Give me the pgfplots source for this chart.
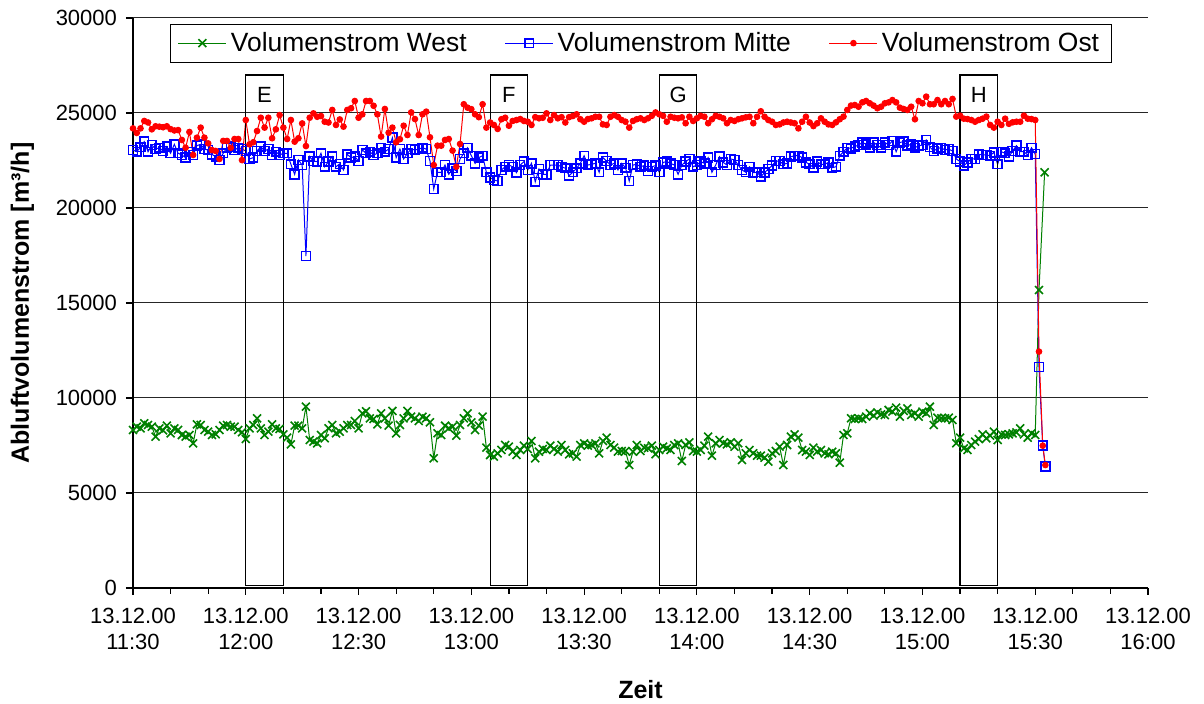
\documentclass[border=0pt]{standalone}
\usepackage{pgfplots}
\pgfplotsset{compat=1.18}
\usepackage{pgfplotstable}
\usepackage{fontspec}
\setmainfont{Liberation Sans}
\definecolor{exgreen}{RGB}{0,128,0}

% t = minutes after 13.12.00 11:30; W = West, M = Mitte, O = Ost
\pgfplotstableread{
t W M O
0 8316 23050 24190
1 8491 22960 23950
2 8400 23200 24190
3 8667 23490 24580
4 8579 22960 24500
5 8491 23310 24140
6 7965 23100 24300
7 8403 23170 24280
8 8300 23000 24250
9 8544 23230 24300
10 8140 22880 24150
11 8403 23350 24080
12 8316 22880 24100
13 8052 22790 23580
14 7965 22650 23170
15 8052 22960 24000
16 7614 22790 22790
17 8614 23280 23700
18 8579 23350 24230
19 8316 23100 23700
20 8228 23050 23400
21 8052 22820 23050
22 8088 22700 23000
23 8316 22530 22580
24 8544 22880 23530
25 8579 23170 23530
26 8491 23230 23170
27 8491 23050 23630
28 8316 23170 23630
29 8193 23100 22520
30 7842 23000 24630
31 8403 22580 23350
32 8579 22650 23460
33 8929 23000 24050
34 8403 23230 24750
35 8052 23000 24230
36 8228 23100 24750
37 8614 22790 23670
38 8403 22960 24140
39 8368 22790 24890
40 8088 22880 24230
41 7912 22880 23630
42 7561 22300 24630
43 8544 21770 23490
44 8544 22530 23670
45 8400 22260 24450
46 9544 17470 23260
47 7789 22700 24750
48 7701 22470 24980
49 7614 22440 24800
50 8052 22880 24840
51 7877 22170 24540
52 8403 22440 24500
53 8579 22700 25160
54 8140 22170 24370
55 8228 22320 24660
56 8403 22000 24280
57 8579 22820 25160
58 8579 22650 25250
59 8789 22700 25630
60 8403 22470 24750
61 9193 23050 24930
62 9300 22880 25630
63 8929 22960 25630
64 8894 22790 25380
65 8614 22880 24930
66 9193 23170 23760
67 8929 22960 25210
68 8544 23100 23960
69 9316 23700 24230
70 8140 22650 23460
71 8579 23100 23620
72 8929 22580 24330
73 9316 22880 23840
74 9017 23100 25030
75 8929 23050 24680
76 8789 23100 23840
77 9017 23170 24930
78 8929 23100 25070
79 8719 22470 23720
80 6824 21000 22260
81 8140 21880 23280
82 8052 21880 23280
83 8544 22260 23580
84 8403 21770 23630
85 8491 22090 23020
86 8017 21950 22170
87 8579 22580 23370
88 8929 22880 25460
89 9193 23170 25280
90 8719 22750 25200
91 8316 22350 24930
92 8544 22650 24780
93 9017 22750 25460
94 7386 21880 24230
95 7000 21600 24500
96 6912 21470 24370
97 7088 21420 24160
98 7263 22000 24670
99 7526 22170 24750
100 7438 22260 24330
101 7175 22170 24580
102 7000 21860 24630
103 7263 22260 24680
104 7491 22440 24580
105 7316 22000 24540
106 7737 22350 24370
107 6824 21380 24780
108 7175 22050 24720
109 7316 21770 24750
110 7263 21770 24980
111 7491 22260 24630
112 7316 22260 24890
113 7175 22260 24720
114 7526 22170 24780
115 7263 22090 24500
116 7035 21700 24780
117 7088 21880 24840
118 6912 22090 24930
119 7526 22350 24670
120 7614 22750 24540
121 7491 22260 24680
122 7526 22300 24720
123 7614 22350 24800
124 7088 21880 24800
125 7737 22650 24400
126 7912 22470 24370
127 7526 22260 24800
128 7386 22350 24890
129 7175 22000 24800
130 7210 22350 24630
131 7210 22120 24540
132 6473 21420 24230
133 7175 22260 24580
134 7526 22300 24670
135 7210 22170 24720
136 7386 22230 24630
137 7350 21950 24720
138 7491 22170 24850
139 7035 22230 25030
140 7263 21880 24930
141 7438 22400 24850
142 7350 22440 24540
143 7263 22350 24800
144 7526 22260 24750
145 7614 21770 24720
146 6684 22260 24770
147 7526 22440 24460
148 7666 22580 24800
149 7210 22170 24580
150 7175 22260 24720
151 7263 22440 24850
152 7491 22350 24800
153 7965 22650 24460
154 6965 21880 24670
155 7614 22260 24850
156 7789 22700 24800
157 7614 22400 24720
158 7561 22260 24460
159 7666 22580 24630
160 7438 22530 24580
161 7614 22260 24670
162 6737 22000 24720
163 7088 21880 24770
164 7263 22170 24800
165 7088 21860 24460
166 6965 21880 24800
167 6965 21650 25090
168 6860 21860 24800
169 6649 22050 24630
170 7088 22230 24540
171 7210 22470 24370
172 7438 22470 24400
173 6473 22300 24500
174 7526 22350 24540
175 7965 22700 24500
176 8088 22750 24460
177 7912 22750 24190
178 7263 22650 24540
179 7175 22400 24800
180 7000 22300 24500
181 7386 22120 24310
182 7175 22440 24460
183 7263 22300 24720
184 7088 22300 24540
185 7035 22400 24400
186 7175 22120 24370
187 7088 22170 24510
188 6596 22750 24670
189 8052 22960 24810
190 8140 23170 25160
191 8929 23140 25390
192 8894 23230 25420
193 8929 23310 25330
194 8894 23450 25560
195 9017 23350 25630
196 9193 23170 25510
197 9070 23450 25390
198 9245 23310 25250
199 9140 23170 25330
200 9105 23450 25510
201 9368 23310 25560
202 9280 23530 25680
203 9491 22960 25560
204 9017 23450 25280
205 9316 23490 25210
206 9455 23280 25160
207 9105 23350 25330
208 9193 23170 24670
209 9017 23280 25630
210 9280 23310 25510
211 9193 23580 25860
212 9544 23200 25460
213 8579 23000 25460
214 8964 23140 25680
215 8929 23170 25460
216 8929 23050 25630
217 8964 23100 25460
218 8842 23000 25740
219 7614 22580 24810
220 7912 22440 24860
221 7350 22230 24700
222 7263 22400 24680
223 7526 22580 24630
224 7701 22580 24540
225 7842 22820 24630
226 8088 22790 24700
227 7877 22790 24810
228 8017 22750 24370
229 8228 22930 24230
230 7789 22300 24540
231 8088 22960 24370
232 8052 22880 24700
233 8088 22700 24430
234 8140 23000 24510
235 8193 23280 24540
236 8403 22960 24540
237 8088 22960 24860
238 7912 22790 24700
239 8140 23170 24680
240 8052 22840 24630
241 15680 11630 12440
242 nan 7490 7490
242.5 21880 nan nan
242.7 nan 6390 6470
}\data

\begin{document}
\begin{tikzpicture}
\path[use as bounding box] (0,0) rectangle (602pt,352pt);
\begin{axis}[
    at={(66.5pt,58pt)}, anchor=south west,
    scale only axis,
    width=507.5pt, height=285pt,
    xmin=0, xmax=270, ymin=0, ymax=30000,
    axis lines*=left,
    axis line style={black, line width=0.6pt},
    xtick={0,30,...,270},
    xticklabels={{13.12.00\\11:30},{13.12.00\\12:00},{13.12.00\\12:30},{13.12.00\\13:00},{13.12.00\\13:30},{13.12.00\\14:00},{13.12.00\\14:30},{13.12.00\\15:00},{13.12.00\\15:30},{13.12.00\\16:00}},
    minor x tick num=2,
    ytick={0,5000,...,30000},
    scaled y ticks=false,
    ymajorgrids,
    major grid style={black!85, line width=0.5pt},
    tick align=outside,
    major tick length=3.5pt, minor tick length=3pt,
    every tick/.style={black, line width=0.6pt},
    tick label style={font=\fontsize{11}{13.2}\selectfont},
    xticklabel style={align=center, yshift=-3pt},
    yticklabel style={xshift=-1pt},
    /pgf/number format/1000 sep={},
    /pgf/number format/assume math mode=true,
    xlabel={Zeit},
    ylabel={Abluftvolumenstrom [m³/h]},
    label style={font=\fontsize{12.5}{15}\selectfont\bfseries},
    xlabel style={at={(axis description cs:0.5,-0.179)}, anchor=center},
    ylabel style={at={(axis description cs:-0.109,0.5)}, anchor=center},
    legend columns=3,
    legend style={at={(0.5,0.99)}, anchor=north, draw=black, fill=white,
        inner xsep=4pt, inner ysep=2pt,
        font=\fontsize{13.2}{16}\selectfont,
        /tikz/every even column/.append style={column sep=17pt}},
    legend image code/.code={\draw[mark repeat=2, mark phase=2] plot coordinates {(0pt,0pt) (12pt,0pt) (24pt,0pt)};},
]
\addplot[exgreen, line width=0.5pt, mark=x, mark size=2.8pt, mark options={line width=0.8pt}] table[x=t, y=W] {\data};
\addlegendentry{Volumenstrom West}
\addplot[blue, line width=0.5pt, mark=square, mark size=2.2pt, mark options={line width=0.8pt}] table[x=t, y=M] {\data};
\addlegendentry{Volumenstrom Mitte}
\addplot[red, line width=0.5pt, mark=*, mark size=1.4pt] table[x=t, y=O] {\data};
\addlegendentry{Volumenstrom Ost}

% Markierte Zeitfenster
\draw[black, line width=0.6pt] (axis cs:30,150) rectangle (axis cs:40,27000);
\draw[black, line width=0.6pt] (axis cs:95,150) rectangle (axis cs:105,27000);
\draw[black, line width=0.6pt] (axis cs:140,150) rectangle (axis cs:150,27000);
\draw[black, line width=0.6pt] (axis cs:220,150) rectangle (axis cs:230,27000);
\node[font=\fontsize{11}{13}\selectfont] at (axis cs:35,25950) {E};
\node[font=\fontsize{11}{13}\selectfont] at (axis cs:100,25950) {F};
\node[font=\fontsize{11}{13}\selectfont] at (axis cs:145,25950) {G};
\node[font=\fontsize{11}{13}\selectfont] at (axis cs:225,25950) {H};
\end{axis}
\end{tikzpicture}
\end{document}
